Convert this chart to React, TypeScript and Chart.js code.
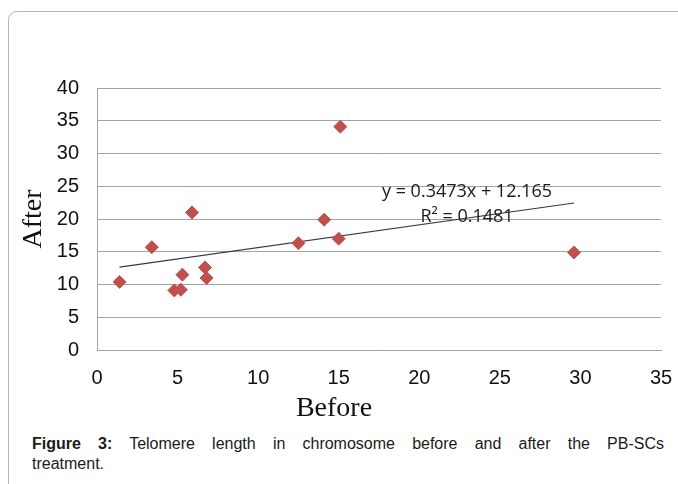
import React, { useEffect, useRef } from "react";
import { Chart, registerables } from "chart.js";

Chart.register(...registerables);

const beforeValues = [1.4, 3.4, 5.9, 5.3, 4.8, 5.2, 6.7, 6.8, 12.5, 14.1, 15.0, 15.1, 29.6];
const afterValues = [10.4, 15.7, 21.0, 11.5, 9.1, 9.2, 12.6, 11.0, 16.3, 19.9, 17.0, 34.1, 14.9];
const xTickValues = [0, 5, 10, 15, 20, 25, 30, 35];
const yTickValues = [0, 5, 10, 15, 20, 25, 30, 35, 40];
const trendSlope = 0.3473;
const trendIntercept = 12.165;
const rSquared = "0.1481";
const xAxisTitle = "Before";
const yAxisTitle = "After";
const captionBold = "Figure 3:";
const captionLine1 = " Telomere length in chromosome before and after the PB-SCs";
const captionLine2 = "treatment.";

const GRID = "#a3a3a3";
const MARKER = "#c0504d";

export default function App() {
  const canvasRef = useRef<HTMLCanvasElement | null>(null);

  useEffect(() => {
    if (!canvasRef.current) return;
    const points = beforeValues.map((b, i) => ({ x: b, y: afterValues[i] }));
    const xMin = Math.min(...beforeValues);
    const xMax = Math.max(...beforeValues);
    const trend = [
      { x: xMin, y: trendSlope * xMin + trendIntercept },
      { x: xMax, y: trendSlope * xMax + trendIntercept },
    ];

    const trendLabel = {
      id: "trendLabel",
      afterDatasetsDraw(chart: any) {
        const { ctx } = chart;
        ctx.save();
        ctx.fillStyle = "#1a1a1a";
        ctx.font = "18px 'Open Sans'";
        ctx.textAlign = "center";
        ctx.textBaseline = "middle";
        ctx.fillText(`y = ${trendSlope}x + ${trendIntercept}`, 467, 192);
        ctx.fillText(`R² = ${rSquared}`, 467, 217);
        ctx.restore();
      },
    };

    const tickFont = { family: "'Liberation Sans', Arial, sans-serif", size: 20 };

    const chart = new Chart(canvasRef.current, {
      type: "scatter",
      data: {
        datasets: [
          {
            type: "line" as any,
            label: "Linear trend",
            data: trend,
            borderColor: "#3a3a3a",
            borderWidth: 1.2,
            pointRadius: 0,
            fill: false,
            order: 2,
          },
          {
            label: "After",
            data: points,
            pointStyle: "rectRot",
            pointRadius: 6.5,
            pointBackgroundColor: MARKER,
            pointBorderColor: MARKER,
            pointBorderWidth: 1,
            order: 1,
          },
        ],
      },
      plugins: [trendLabel],
      options: {
        animation: false,
        responsive: false,
        maintainAspectRatio: false,
        layout: { padding: { top: 88, right: 17, left: 0, bottom: 0 } },
        plugins: {
          legend: { display: false },
          tooltip: { enabled: false },
        },
        scales: {
          x: {
            type: "linear",
            min: 0,
            max: 35,
            afterBuildTicks: (s: any) => {
              s.ticks = xTickValues.map((v) => ({ value: v }));
            },
            afterFit: (s: any) => {
              s.height = 80;
              s.paddingLeft = 0;
              s.paddingRight = 0;
            },
            ticks: { font: tickFont, color: "#111", padding: 16, maxRotation: 0 },
            grid: { display: false, drawTicks: false },
            border: { display: true, color: GRID, width: 1 },
          },
          y: {
            type: "linear",
            min: 0,
            max: 40,
            afterBuildTicks: (s: any) => {
              s.ticks = yTickValues.map((v) => ({ value: v }));
            },
            afterFit: (s: any) => {
              s.width = 97;
              s.paddingTop = 0;
              s.paddingBottom = 0;
            },
            ticks: { font: tickFont, color: "#111", padding: 18 },
            grid: { color: GRID, drawTicks: false, lineWidth: 1 },
            border: { display: true, color: GRID, width: 1 },
            title: {
              display: true,
              text: yAxisTitle,
              color: "#111",
              font: { family: "'Liberation Serif', 'Times New Roman', serif", size: 28 },
              padding: { top: 17, bottom: 0 },
            },
          },
        },
      },
    } as any);
    return () => chart.destroy();
  }, []);

  return (
    <div style={{ position: "absolute", left: 0, top: 0, width: 678, height: 484, overflow: "hidden", background: "#fff" }}>
      <div
        style={{
          position: "absolute",
          left: 8,
          top: 11,
          width: 720,
          height: 520,
          border: "1px solid #b5b5b5",
          borderRadius: 9,
          boxSizing: "border-box",
        }}
      />
      <canvas ref={canvasRef} width={678} height={430} style={{ position: "absolute", left: 0, top: 0, width: 678, height: 430 }} />
      <div
        style={{
          position: "absolute",
          left: 234,
          width: 200,
          top: 393,
          textAlign: "center",
          fontFamily: "'Liberation Serif', 'Times New Roman', serif",
          fontSize: 28,
          lineHeight: "28px",
          color: "#111",
        }}
      >
        {xAxisTitle}
      </div>
      <div
        style={{
          position: "absolute",
          left: 32,
          top: 434,
          width: 632,
          fontFamily: "'Liberation Sans', Arial, sans-serif",
          fontSize: 16,
          lineHeight: "20px",
          color: "#1a1a1a",
        }}
      >
        <div style={{ textAlign: "justify", textAlignLast: "justify" as any }}>
          <b>{captionBold}</b>
          {captionLine1}
        </div>
        <div>{captionLine2}</div>
      </div>
    </div>
  );
}
